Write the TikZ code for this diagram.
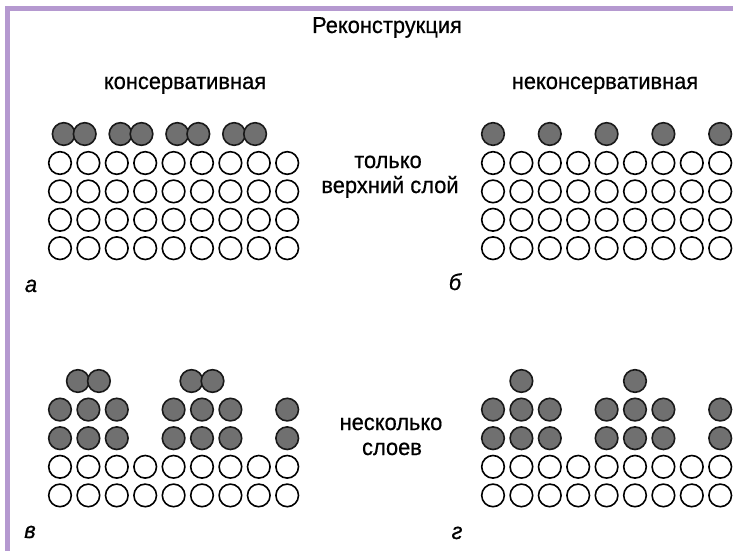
\documentclass[tikz,border=0pt]{standalone}
\usepackage{fontspec}
\setmainfont{Liberation Sans}[FakeStretch=0.95, FakeBold=0.6]
\usepackage{tikz}
\usetikzlibrary{positioning}

\definecolor{lila}{RGB}{181,153,208}
\definecolor{adgray}{RGB}{112,112,112}

\tikzset{
	atom/.style={draw=black, line width=1.6pt, fill=white},
	adatom/.style={draw=black!90, line width=1.6pt, fill=adgray},
	lbl/.style={font=\fontsize{23}{27}\selectfont, anchor=base, inner sep=0pt},
	panel/.style={font=\fontsize{23}{27}\selectfont\itshape, anchor=base, inner sep=0pt},
}

\begin{document}
\begin{tikzpicture}[x=1pt,y=-1pt]
		\useasboundingbox (0,0) rectangle (739,551);
		\fill[white] (0,0) rectangle (739,551);
		\fill[lila] (5,6) rectangle (733,11);
		\fill[lila] (5,6) rectangle (10,551);

		% headings
		\node[lbl] (title) at (387,33) {Реконструкция};
		\node[lbl] (cons) at (185,89) {консервативная};
		\node[lbl] (noncons) at (605,89) {неконсервативная};
		\node[lbl] (top1) at (388,168) {только};
		\node[lbl] (top2) at (390,193) {верхний слой};
		\node[lbl] (multi1) at (391,430) {несколько};
		\node[lbl] (multi2) at (392,455) {слоев};

		% panel letters
		\node[panel] (pa) at (31,292) {а};
		\node[panel] (pb) at (455,290) {б};
		\node[panel] (pv) at (30,538) {в};
		\node[panel] (pg) at (457,539) {г};

		% substrate, upper panels
		\foreach \i in {0,...,8}{
			\foreach \j in {0,...,3}{
				\draw[atom] (60+28.4*\i, 163+28.4*\j) circle (11.3pt);
				\draw[atom] (493+28.4*\i, 163+28.4*\j) circle (11.3pt);
			}
		}
		% a: pairs in top layer only
		\foreach \c in {74.2,131,187.8,244.6}{
			\draw[adatom] (\c-10.5, 134) circle (11.3pt);
			\draw[adatom] (\c+10.5, 134) circle (11.3pt);
		}
		% b: every second site
		\foreach \i in {0,2,4,6,8}
			\draw[adatom] (493+28.4*\i, 134) circle (11.3pt);

		% substrate, lower panels
		\foreach \i in {0,...,8}{
			\foreach \j in {0,1}{
				\draw[atom] (60+28.4*\i, 466.8+28.6*\j) circle (11.3pt);
				\draw[atom] (493+28.4*\i, 466.8+28.6*\j) circle (11.3pt);
			}
		}
		% two filled layers in both lower panels
		\foreach \i in {0,1,2,4,5,6,8}{
			\foreach \j in {0,1}{
				\draw[adatom] (60+28.4*\i, 409.6+28.6*\j) circle (11.3pt);
				\draw[adatom] (493+28.4*\i, 409.6+28.6*\j) circle (11.3pt);
			}
		}
		% v: pairs on top
		\foreach \c in {88.4,202}{
			\draw[adatom] (\c-10.5, 381) circle (11.3pt);
			\draw[adatom] (\c+10.5, 381) circle (11.3pt);
		}
		% g: single atoms on top
		\foreach \i in {1,5}
			\draw[adatom] (493+28.4*\i, 381) circle (11.3pt);
	\end{tikzpicture}
\end{document}
